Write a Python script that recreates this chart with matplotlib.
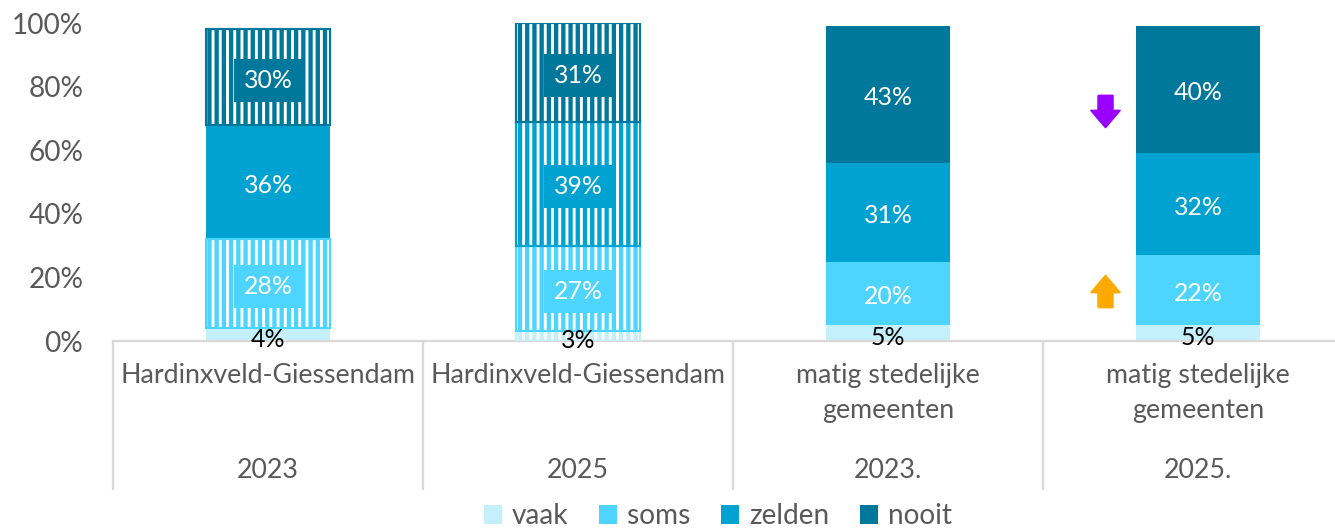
import numpy as np
import matplotlib.pyplot as plt
from matplotlib.path import Path
from matplotlib.patches import Patch
from matplotlib.ticker import PercentFormatter

# ---- data ----
groups = ['Hardinxveld-Giessendam', 'Hardinxveld-Giessendam',
          'matig stedelijke\ngemeenten', 'matig stedelijke\ngemeenten']
years = ['2023', '2025', '2023.', '2025.']
series = ['vaak', 'soms', 'zelden', 'nooit']
vaak = [4, 3, 5, 5]
soms = [28, 27, 20, 22]
zelden = [36, 39, 31, 32]
nooit = [30, 31, 43, 40]
# gearceerde segmenten
hatched = {
    'vaak':   [False, True, False, False],
    'soms':   [True, True, False, False],
    'zelden': [False, True, False, False],
    'nooit':  [True, True, False, False],
}
colors = {'vaak': '#C4F0FC', 'soms': '#4DD5FF', 'zelden': '#00A2D1', 'nooit': '#00789C'}
GREY = '#595959'

plt.rcParams['font.family'] = ['Lato', 'DejaVu Sans']
plt.rcParams['hatch.linewidth'] = 1.6

DPI = 130
fig = plt.figure(figsize=(1335 / DPI, 528 / DPI), dpi=DPI)
ax = fig.add_axes([113 / 1335, 1 - 341 / 528, 1240 / 1335, 318 / 528])

x = np.arange(len(years))
width = 0.4
values = {'vaak': vaak, 'soms': soms, 'zelden': zelden, 'nooit': nooit}
bottom = np.zeros(len(years))
for s in series:
    v = np.array(values[s]) / 100
    for i in range(len(x)):
        if hatched[s][i]:
            ax.bar(x[i], v[i], width, bottom=bottom[i], facecolor=colors[s],
                   edgecolor='white', linewidth=0, hatch='|||', zorder=2)
            ax.bar(x[i], v[i], width, bottom=bottom[i], fill=False,
                   edgecolor=colors[s], linewidth=1.2, zorder=3)
        else:
            ax.bar(x[i], v[i], width, bottom=bottom[i], color=colors[s],
                   linewidth=0, zorder=2)
        yc = bottom[i] + v[i] / 2
        if s == 'vaak':
            ax.text(x[i], yc - 0.014, f'{values[s][i]}%', ha='center', va='center',
                    fontsize=13.8, color='black', zorder=5)
        else:
            ax.text(x[i], yc - 0.01, f'{values[s][i]}%', ha='center', va='center',
                    fontsize=13.8, color='white', zorder=5,
                    bbox=dict(boxstyle='square,pad=0.4', facecolor=colors[s],
                              edgecolor='none'))
    bottom += v

# pijlen (significante verandering) bij laatste staaf
down = Path([(-0.23, 0.5), (0.23, 0.5), (0.23, 0.03), (0.45, 0.03), (0, -0.5),
             (-0.45, 0.03), (-0.23, 0.03), (-0.23, 0.5)])
up = Path([(px, -py) for px, py in down.vertices])
ax.plot(x[3] - 0.3, 0.723, marker=down, markersize=17.7, color='#9900FF',
        linestyle='none', clip_on=False, zorder=6)
ax.plot(x[3] - 0.3, 0.157, marker=up, markersize=17.7, color='#FFAA00',
        linestyle='none', clip_on=False, zorder=6)

ax.set_xlim(-0.5, 3.5)
ax.set_ylim(0, 1)
ax.set_yticks(np.arange(0, 1.01, 0.2))
ax.yaxis.set_major_formatter(PercentFormatter(1, decimals=0))
ax.tick_params(axis='y', length=0, pad=16.5, labelsize=15.5, labelcolor=GREY)
ax.set_xticks([])
for sp in ['top', 'right', 'left']:
    ax.spines[sp].set_visible(False)
ax.spines['bottom'].set_color('#D9D9D9')
ax.spines['bottom'].set_linewidth(1.3)

# categorie-as met twee niveaus
tr = ax.get_xaxis_transform()
ax.vlines(np.arange(-0.5, 3.6, 1), 0, -149 / 318, transform=tr, colors='#D9D9D9',
          linewidth=1.3, clip_on=False)
for i in range(len(x)):
    ax.text(x[i], -22 / 318, groups[i], transform=tr, ha='center', va='top',
            fontsize=14.8, color=GREY, linespacing=1.5)
    ax.text(x[i], -129 / 318, years[i], transform=tr, ha='center', va='center',
            fontsize=14.8, color=GREY)

handles = [Patch(facecolor=colors[s], label=s) for s in series]
fig.legend(handles=handles, loc='center', bbox_to_anchor=(718 / 1335, 1 - 516 / 528),
           ncol=4, frameon=False, fontsize=15.5, handlelength=0.65, handleheight=0.65,
           handletextpad=0.35, columnspacing=1.1, labelcolor=GREY, borderpad=0)

fig.savefig('out.png', dpi=DPI)
